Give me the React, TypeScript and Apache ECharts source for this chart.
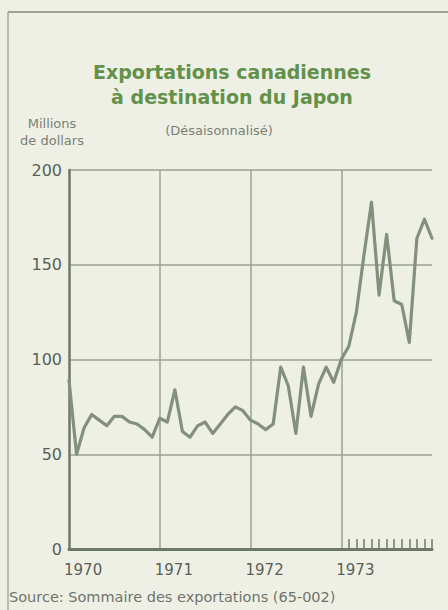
import React, { useEffect, useRef } from "react";
import * as echarts from "echarts";

const years = ["1970", "1971", "1972", "1973", "1974"];
const yTicks = [0, 50, 100, 150, 200];
// Monthly values, Jan 1970 .. Jan 1974 (millions of dollars, seasonally adjusted)
const exportsJapan = [
  89, 50, 64, 71, 68, 65, 70, 70, 67, 66, 63, 59,
  69, 67, 84, 62, 59, 65, 67, 61, 66, 71, 75, 73,
  68, 66, 63, 66, 96, 86, 61, 96, 70, 87, 96, 88,
  100, 107, 125, 155, 183, 134, 166, 131, 129, 109, 164, 174,
  164,
];

const titleLines = ["Exportations canadiennes", "à destination du Japon"];
const subtitle = "(Désaisonnalisé)";
const unitLines = ["Millions", "de dollars"];
const sourceText = "Source: Sommaire des exportations (65-002)";

const months: string[] = [];
years.forEach((y, yi) => {
  for (let m = 1; m <= 12; m++) {
    if (yi === years.length - 1 && m > 1) break;
    months.push(`${y}-${m < 10 ? "0" + m : m}`);
  }
});

const FONT = "DejaVu Sans";
const AXIS = "#6e7868";
const GRID = "#9aa392";

export default function App() {
  const ref = useRef<HTMLDivElement>(null);
  useEffect(() => {
    if (!ref.current) return;
    const chart = echarts.init(ref.current, null, { renderer: "svg" });
    chart.setOption({
      animation: false,
      backgroundColor: "#eef0e6",
      grid: { left: 69, right: 16, top: 170, bottom: 61, containLabel: false },
      xAxis: {
        type: "category",
        data: months,
        boundaryGap: false,
        axisLine: { show: true, lineStyle: { color: AXIS, width: 3 } },
        axisTick: {
          show: true,
          inside: true,
          length: 10,
          interval: (i: number) => i > 36,
          lineStyle: { color: AXIS, width: 1.5 },
        },
        axisLabel: {
          interval: (i: number) => i % 12 === 0 && i < 48,
          formatter: (v: string) => v.slice(0, 4),
          align: "left",
          padding: [0, 0, 0, -5],
          margin: 13,
          fontFamily: FONT,
          fontSize: 15,
          color: "#5a5f56",
        },
        splitLine: {
          show: true,
          interval: (i: number) => i % 12 === 0 && i > 0 && i < 48,
          lineStyle: { color: GRID, width: 1.5 },
        },
      },
      yAxis: {
        type: "value",
        min: 0,
        max: 200,
        interval: 50,
        axisLine: { show: true, lineStyle: { color: AXIS, width: 2.5 } },
        axisTick: { show: false },
        axisLabel: {
          margin: 7,
          fontFamily: FONT,
          fontSize: 16,
          color: "#5a5f56",
          formatter: (v: number) => (yTicks.includes(v) ? String(v) : ""),
        },
        splitLine: { show: true, lineStyle: { color: GRID, width: 1.5 } },
      },
      series: [
        {
          type: "line",
          data: exportsJapan,
          symbol: "none",
          smooth: false,
          lineStyle: { color: "#83907b", width: 3.2, join: "round", cap: "round" },
        },
      ],
      graphic: [
        {
          type: "line",
          shape: { x1: 8, y1: 12, x2: 448, y2: 12 },
          style: { stroke: "#9aa394", lineWidth: 2 },
        },
        {
          type: "line",
          shape: { x1: 8, y1: 12, x2: 8, y2: 610 },
          style: { stroke: "#a4ab9e", lineWidth: 1.5 },
        },
        {
          type: "text",
          x: 232,
          y: 72,
          style: {
            text: titleLines[0],
            fontFamily: FONT,
            fontWeight: "bold",
            fontSize: 19,
            fill: "#639149",
            align: "center",
            verticalAlign: "middle",
          },
        },
        {
          type: "text",
          x: 232,
          y: 97,
          style: {
            text: titleLines[1],
            fontFamily: FONT,
            fontWeight: "bold",
            fontSize: 19,
            fill: "#639149",
            align: "center",
            verticalAlign: "middle",
          },
        },
        {
          type: "text",
          x: 219,
          y: 130,
          style: {
            text: subtitle,
            fontFamily: FONT,
            fontSize: 13,
            fill: "#7a8074",
            align: "center",
            verticalAlign: "middle",
          },
        },
        {
          type: "text",
          x: 52,
          y: 123,
          style: {
            text: unitLines[0],
            fontFamily: FONT,
            fontSize: 13,
            fill: "#7a8074",
            align: "center",
            verticalAlign: "middle",
          },
        },
        {
          type: "text",
          x: 52,
          y: 140,
          style: {
            text: unitLines[1],
            fontFamily: FONT,
            fontSize: 13,
            fill: "#7a8074",
            align: "center",
            verticalAlign: "middle",
          },
        },
        {
          type: "text",
          x: 9,
          y: 597,
          style: {
            text: sourceText,
            fontFamily: FONT,
            fontSize: 14.5,
            fill: "#6e746a",
            align: "left",
            verticalAlign: "middle",
          },
        },
      ],
    });
    return () => chart.dispose();
  }, []);
  return (
    <div
      ref={ref}
      style={{ position: "fixed", left: 0, top: 0, width: 448, height: 610 }}
    />
  );
}
